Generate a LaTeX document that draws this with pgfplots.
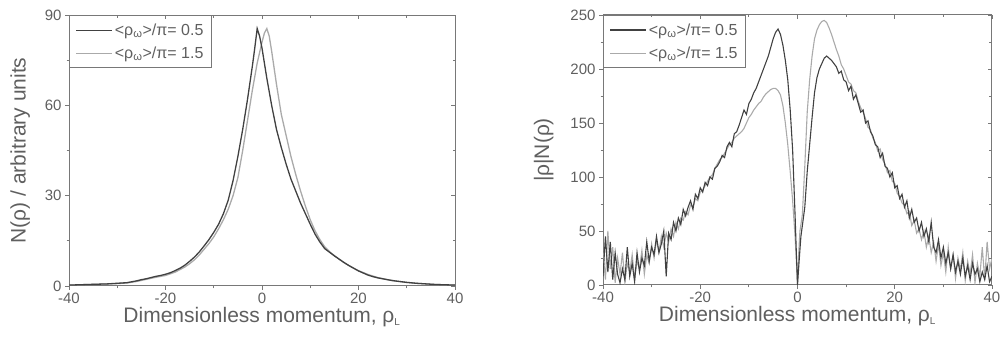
\documentclass[border=0pt]{standalone}
\usepackage{fontspec}
\setmainfont{Liberation Sans}
\usepackage{pgfplots}
\pgfplotsset{compat=1.18}
\definecolor{txt}{RGB}{95,95,95}
\definecolor{axc}{RGB}{120,120,120}
\definecolor{darkc}{RGB}{65,65,65}
\definecolor{lightc}{RGB}{170,170,170}
\pgfplotsset{
  base/.style={
    scale only axis,
    axis line style={axc, line width=1pt},
    every tick/.style={axc, line width=0.8pt},
    major tick length=4pt, minor tick length=2.5pt,
    tick align=outside,
    xtick pos=left, ytick pos=left,
    tick label style={font=\fontsize{15}{17}\selectfont, text=txt},
    label style={font=\fontsize{21}{24}\selectfont, text=txt},
    /pgf/number format/assume math mode=true,
    xmin=-40, xmax=40, xtick={-40,-20,0,20,40}, minor x tick num=1,
    minor y tick num=1,
    xticklabel style={yshift=1pt},
    legend style={at={(0,1)}, anchor=north west, draw=axc, line width=1.2pt,
      font=\fontsize{16}{18}\selectfont, text=txt, inner xsep=6pt, inner ysep=6pt,
      row sep=6pt, legend cell align=left},
    legend image code/.code={\draw[##1] (0pt,0pt) -- (36pt,0pt);},
  },
  mirror/.style={
    scale only axis, hide axis=false,
    axis line style={draw=none},
    every tick/.style={axc, line width=0.8pt},
    major tick length=4pt, minor tick length=2.5pt,
    tick align=inside,
    xtick pos=right, ytick pos=right,
    xticklabels={}, yticklabels={},
    xmin=-40, xmax=40, xtick={-40,-20,0,20,40}, minor x tick num=1,
    minor y tick num=1,
  }
}
\newcommand{\xl}{Dimensionless momentum, ρ\textsubscript{\fontsize{10}{10}\selectfont L}}
\newcommand{\lo}{<ρ\textsubscript{ω}>/π= }
\begin{document}
\begin{tikzpicture}
\useasboundingbox (0,0) rectangle (1002pt,340pt);
% ---------- left panel ----------
\begin{axis}[base, at={(69pt,54pt)}, anchor=south west, width=386pt, height=271pt,
  ymin=0, ymax=90, ytick={0,30,60,90},
  xlabel={\xl},
  ylabel={N(ρ) / arbitrary units},
  xlabel style={yshift=3pt}, ylabel style={yshift=8pt}]
\addlegendimage{darkc, line width=1.3pt}
\addlegendentry{\lo 0.5}
\addlegendimage{lightc, line width=1.3pt}
\addlegendentry{\lo 1.5}
\addplot[lightc, line width=1.3pt, forget plot] table {
-40 0.3
-38 0.4
-36 0.5
-34 0.6
-32 0.7
-30 0.8
-28 1.0
-26 1.5
-24 2.2
-22 2.9
-20 3.5
-18 4.6
-16 6.3
-15 7.4
-14 8.7
-13 10.3
-12 12.2
-11 14.1
-10 16.3
-9 19.0
-8 22.0
-7 25.5
-6 30.0
-5 36.0
-4 45.0
-3 55.0
-2 65.0
-1 74.0
0 81.0
0.5 84.0
1 85.5
1.5 83.0
2 78.0
3 67.0
4 57.0
5 50.0
6 43.0
7 37.0
8 31.5
9 26.5
10 22.0
11 18.3
12 15.4
13 13.0
14 11.4
15 10.1
16 8.9
17 7.8
18 6.8
19 5.9
20 5.1
22 3.8
24 2.8
26 2.1
28 1.6
30 1.2
32 0.9
34 0.7
36 0.5
38 0.4
40 0.3
};
\addplot[darkc, line width=1.3pt, forget plot] table {
-40 0.3
-38 0.4
-36 0.5
-34 0.6
-32 0.7
-30 0.9
-29 1.0
-28 1.1
-27 1.4
-26 1.7
-25 2.1
-24 2.4
-23 2.8
-22 3.2
-21 3.5
-20 3.9
-19 4.4
-18 5.1
-17 5.9
-16 6.9
-15 8.2
-14 9.6
-13 11.3
-12 13.3
-11 15.4
-10 17.8
-9 20.5
-8 24.0
-7 28.5
-6 35.0
-5 43.0
-4 52.0
-3 62.0
-2 73.0
-1.5 79.0
-1 85.5
-0.5 83.0
0 79.0
0.5 74.0
1 69.0
2 60.0
3 52.0
4 46.0
5 40.5
6 35.5
7 31.5
8 27.5
9 24.0
10 20.5
11 17.2
12 14.6
13 12.4
14 11.2
15 10.0
16 8.9
17 7.8
18 6.8
19 5.9
20 5.0
21 4.3
22 3.6
23 3.1
24 2.7
25 2.4
26 2.1
27 1.8
28 1.6
29 1.4
30 1.2
32 0.9
34 0.7
36 0.5
38 0.4
40 0.3
};
\end{axis}
\begin{axis}[mirror, at={(69pt,54pt)}, anchor=south west, width=386pt, height=271pt,
  ymin=0, ymax=90, ytick={0,30,60,90}]
\end{axis}
% ---------- right panel ----------
\begin{axis}[base, at={(603pt,55pt)}, anchor=south west, width=389pt, height=270pt,
  ymin=0, ymax=250, ytick={0,50,100,150,200,250},
  xlabel={\xl},
  ylabel={|ρ|N(ρ)},
  xlabel style={yshift=3pt}, ylabel style={yshift=10pt}]
\addlegendimage{darkc, line width=1.3pt}
\addlegendentry{\lo 0.5}
\addlegendimage{lightc, line width=1.3pt}
\addlegendentry{\lo 1.5}
\addplot[lightc, line width=1.1pt, forget plot] table {
-40 30
-39.5 5
-39 50
-38.5 15
-38 35
-37.5 2
-37 25
-36.5 10
-36 30
-35.5 3
-35 20
-34.5 12
-34 28
-33.5 6
-33 22
-32.5 15
-32 32
-31.5 10
-31 28
-30.5 20
-30 38
-29.5 25
-29 42
-28.5 30
-28 45
-27.5 35
-27 48
-26.5 40
-26 52
-25.5 45
-25 58
-24.5 52
-24 62
-23.5 60
-23 68
-22.5 65
-22 74
-21.5 72
-21 80
-20.5 78
-20 86
-19.5 88
-19 92
-18.5 96
-18 100
-17.5 102
-17 108
-16.5 112
-16 116
-15.5 118
-15 122
-14.5 126
-14 130
-13.5 132
-13 136
-12.5 138
-12 140
-11.5 142
-11 145
-10.5 150
-10 155
-9.5 158
-9 162
-8.5 165
-8 168
-7.5 170
-7 174
-6.5 177
-6 179
-5.5 181
-5 182
-4.5 182
-4 180
-3.5 176
-3 166
-2.5 150
-2 130
-1.5 105
-1 78
-0.5 45
-0.2 20
0 0
0.2 25
0.5 50
1 65
1.5 110
2 160
2.5 190
3 212
3.5 228
4 236
4.5 241
5 244
5.5 245
6 243
6.5 238
7 232
7.5 225
8 218
8.5 212
9 204
9.5 200
10 194
10.5 188
11 186
11.5 180
12 178
12.5 170
13 164
13.5 160
14 154
14.5 146
15 144
15.5 136
16 132
16.5 124
17 126
17.5 116
18 112
18.5 104
19 106
19.5 96
20 94
20.5 85
21 82
21.5 76
22 74
22.5 66
23 68
23.5 55
24 60
24.5 48
25 52
25.5 42
26 50
26.5 35
27 45
27.5 30
28 40
28.5 22
29 38
29.5 18
30 30
30.5 12
31 35
31.5 15
32 28
32.5 6
33 25
33.5 14
34 30
34.5 4
35 22
35.5 10
36 28
36.5 2
37 20
37.5 8
38 35
38.5 5
39 40
39.5 15
40 25
};
\addplot[darkc, line width=1.1pt, forget plot] table {
-40 8
-39.5 45
-39 12
-38.5 40
-38 5
-37.5 30
-37 10
-36.5 2
-36 15
-35.5 5
-35 35
-34.5 8
-34 20
-33.5 3
-33 30
-32.5 12
-32 25
-31.5 18
-31 40
-30.5 22
-30 35
-29.5 28
-29 45
-28.5 30
-28 38
-27.5 50
-27 8
-26.5 48
-26 42
-25.5 58
-25 50
-24.5 62
-24 56
-23.5 70
-23 64
-22.5 72
-22 78
-21.5 70
-21 84
-20.5 80
-20 90
-19.5 86
-19 95
-18.5 92
-18 100
-17.5 98
-17 108
-16.5 110
-16 114
-15.5 120
-15 118
-14.5 128
-14 132
-13.5 128
-13 140
-12.5 142
-12 148
-11.5 155
-11 162
-10.5 158
-10 168
-9.5 172
-9 178
-8.5 182
-8 188
-7.5 194
-7 200
-6.5 206
-6 212
-5.5 220
-5 228
-4.5 234
-4 237
-3.5 232
-3 222
-2.5 208
-2 190
-1.5 162
-1 125
-0.5 65
-0.2 25
0 0
0.3 20
0.7 45
1 55
1.5 72
2 105
2.5 130
3 155
3.5 178
4 192
4.5 200
5 205
5.5 210
6 212
6.5 210
7 208
7.5 205
8 202
8.5 196
9 198
9.5 190
10 188
10.5 180
11 184
11.5 172
12 176
12.5 168
13 160
13.5 162
14 150
14.5 152
15 142
15.5 138
16 130
16.5 128
17 118
17.5 122
18 110
18.5 108
19 100
19.5 104
20 90
20.5 92
21 80
21.5 84
22 72
22.5 78
23 62
23.5 70
24 58
24.5 62
25 50
25.5 58
26 45
26.5 52
27 40
27.5 58
28 35
28.5 30
29 42
29.5 25
30 35
30.5 20
31 30
31.5 15
32 28
32.5 12
33 22
33.5 10
34 25
34.5 8
35 18
35.5 5
36 20
36.5 10
37 15
37.5 3
38 12
38.5 5
39 18
39.5 3
40 8
};
\end{axis}
\begin{axis}[mirror, at={(603pt,55pt)}, anchor=south west, width=389pt, height=270pt,
  ymin=0, ymax=250, ytick={0,50,100,150,200,250}]
\end{axis}
\end{tikzpicture}
\end{document}
